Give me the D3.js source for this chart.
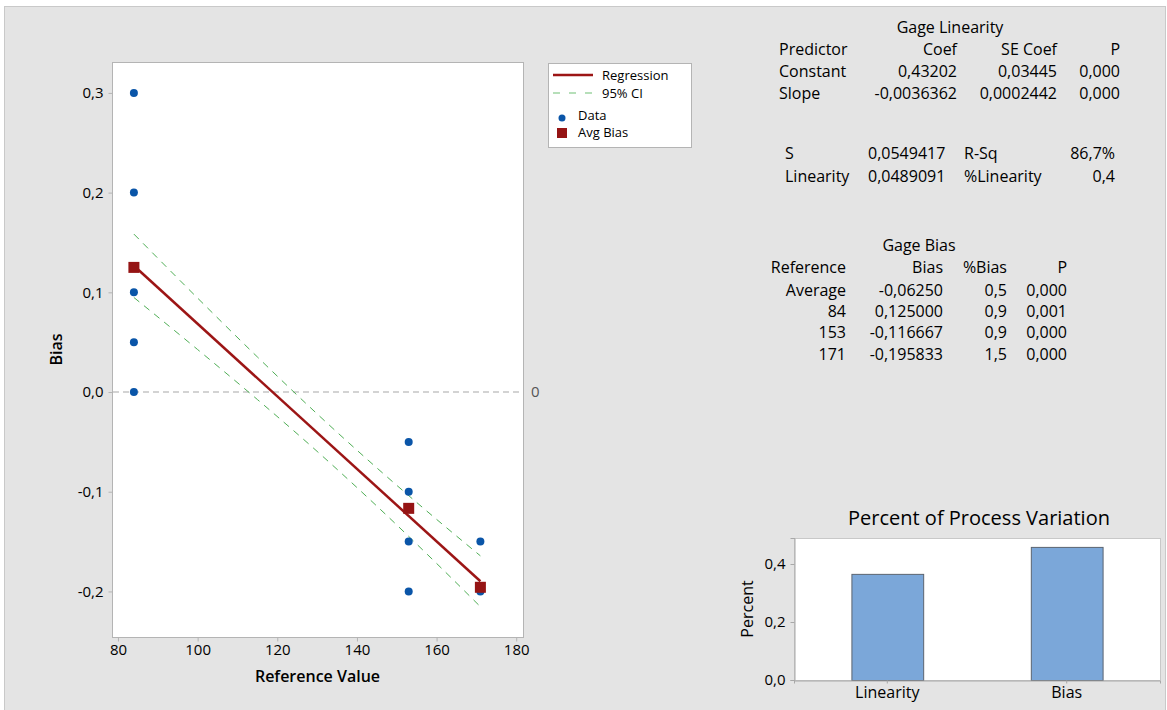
<!DOCTYPE html>
<html>
<head>
<meta charset="utf-8">
<script src="https://cdn.jsdelivr.net/npm/d3@7"></script>
<style>
  body { margin: 0; background: #fff; }
  svg { display: block; font-family: "Open Sans", "Noto Sans", sans-serif; }
  .tick text { fill: #000; }
</style>
</head>
<body>
<svg id="chart" width="1167" height="710"></svg>
<script>
// --- data ---
const refValues = [84, 153, 171];
const dataX = [84, 84, 84, 84, 84, 153, 153, 153, 153, 171, 171];
const dataBias = [0.3, 0.2, 0.1, 0.05, 0.0, -0.05, -0.1, -0.15, -0.2, -0.15, -0.2];
const avgBias = [0.125, -0.116667, -0.195833];
const regX = [84, 171];
const regY = [0.1266, -0.1898];
const ciX = [84, 100, 115, 130, 136, 145, 160, 171];
const ciUpper = [0.1584, 0.0942, 0.0352, -0.0219, -0.0439, -0.0761, -0.1277, -0.1643];
const ciLower = [0.0948, 0.0426, -0.0075, -0.0595, -0.0811, -0.1144, -0.1719, -0.2153];
const xTicks = [80, 100, 120, 140, 160, 180];
const yTicks = [-0.2, -0.1, 0.0, 0.1, 0.2, 0.3];

const legendLabels = ['Regression', '95% CI', 'Data', 'Avg Bias'];

const linHeader = ['Predictor', 'Coef', 'SE Coef', 'P'];
const linRows = [
  ['Constant', '0,43202', '0,03445', '0,000'],
  ['Slope', '-0,0036362', '0,0002442', '0,000']
];
const fitRows = [
  ['S', '0,0549417', 'R-Sq', '86,7%'],
  ['Linearity', '0,0489091', '%Linearity', '0,4']
];
const biasHeader = ['Reference', 'Bias', '%Bias', 'P'];
const biasRows = [
  ['Average', '-0,06250', '0,5', '0,000'],
  ['84', '0,125000', '0,9', '0,001'],
  ['153', '-0,116667', '0,9', '0,000'],
  ['171', '-0,195833', '1,5', '0,000']
];

const barCategories = ['Linearity', 'Bias'];
const barValues = [0.366, 0.459];
const barTicks = [0.0, 0.2, 0.4];

// --- helpers ---
const loc = d3.formatLocale({ decimal: ',', thousands: '.', grouping: [3], currency: ['', ''], minus: '-' });
const fmt1 = loc.format('.1f');
const ink = '#000';

const svg = d3.select('#chart');

// background panel
svg.append('rect').attr('width', 1167).attr('height', 710).attr('fill', '#fff');
svg.append('rect')
  .attr('x', 4.5).attr('y', 6.5).attr('width', 1161).attr('height', 710)
  .attr('fill', '#e4e4e4').attr('stroke', '#c9c9c9');

// ===== main linearity plot =====
const P = { left: 112, right: 523, top: 62, bottom: 637 };
const x = d3.scaleLinear().domain([78.5, 181.7]).range([P.left, P.right]);
const y = d3.scaleLinear().domain([-0.2457, 0.331]).range([P.bottom, P.top]);

const main = svg.append('g');
main.append('rect')
  .attr('x', P.left + 0.5).attr('y', P.top + 0.5)
  .attr('width', P.right - P.left).attr('height', P.bottom - P.top)
  .attr('fill', '#fff').attr('stroke', '#b4b4b4');

const xAxis = main.append('g')
  .attr('transform', `translate(0,${P.bottom + 0.5})`)
  .call(d3.axisBottom(x).tickValues(xTicks).tickFormat(d3.format('d')).tickSize(4).tickPadding(3));
const yAxis = main.append('g')
  .attr('transform', `translate(${P.left + 0.5},0)`)
  .call(d3.axisLeft(y).tickValues(yTicks).tickFormat(fmt1).tickSize(4).tickPadding(5));
[xAxis, yAxis].forEach(a => {
  a.select('.domain').remove();
  a.selectAll('.tick line').attr('stroke', '#b4b4b4');
  a.selectAll('.tick text').attr('font-size', 15).attr('font-family', '"Open Sans", sans-serif');
});

// zero reference line
main.append('line')
  .attr('x1', P.left + 1).attr('x2', P.right)
  .attr('y1', y(0)).attr('y2', y(0))
  .attr('stroke', '#a8a8a8').attr('stroke-width', 1.2).attr('stroke-dasharray', '6,4');
main.append('text')
  .attr('x', 531).attr('y', y(0)).attr('dy', '0.35em')
  .attr('font-size', 15).attr('fill', '#555').text('0');

// confidence band lines
const ciPts = ciX.map((v, i) => ({ x: v, up: ciUpper[i], lo: ciLower[i] }));
const ciLine = key => d3.line().x(d => x(d.x)).y(d => y(d[key])).curve(d3.curveMonotoneX);
['up', 'lo'].forEach(k => {
  main.append('path').datum(ciPts)
    .attr('d', ciLine(k))
    .attr('fill', 'none').attr('stroke', '#4fae55').attr('stroke-width', 1)
    .attr('stroke-dasharray', '7,6');
});

// regression line
main.append('path')
  .datum(regX.map((v, i) => [v, regY[i]]))
  .attr('d', d3.line().x(d => x(d[0])).y(d => y(d[1])))
  .attr('stroke', '#9c1515').attr('stroke-width', 2.5).attr('fill', 'none');

// data points
main.selectAll('circle.data')
  .data(dataX.map((v, i) => [v, dataBias[i]]))
  .join('circle')
  .attr('class', 'data')
  .attr('cx', d => x(d[0])).attr('cy', d => y(d[1]))
  .attr('r', 4).attr('fill', '#0a55a8');

// average bias squares
const sq = 11;
main.selectAll('rect.avg')
  .data(refValues.map((v, i) => [v, avgBias[i]]))
  .join('rect')
  .attr('class', 'avg')
  .attr('x', d => x(d[0]) - sq / 2).attr('y', d => y(d[1]) - sq / 2)
  .attr('width', sq).attr('height', sq)
  .attr('fill', '#951414');

// axis titles
main.append('text')
  .attr('x', (P.left + P.right) / 2).attr('y', 682)
  .attr('text-anchor', 'middle').attr('font-size', 16).attr('font-weight', 600)
  .attr('fill', ink).text('Reference Value');
main.append('text')
  .attr('transform', `translate(62,${(P.top + P.bottom) / 2}) rotate(-90)`)
  .attr('text-anchor', 'middle').attr('font-size', 16).attr('font-weight', 600)
  .attr('fill', ink).text('Bias');

// legend
const lg = svg.append('g');
lg.append('rect').attr('x', 548.5).attr('y', 63.5).attr('width', 143).attr('height', 84)
  .attr('fill', '#fff').attr('stroke', '#b4b4b4');
lg.append('line').attr('x1', 553).attr('x2', 593).attr('y1', 75).attr('y2', 75)
  .attr('stroke', '#9c1515').attr('stroke-width', 2.5);
lg.append('line').attr('x1', 553).attr('x2', 593).attr('y1', 93).attr('y2', 93)
  .attr('stroke', '#6fbf74').attr('stroke-width', 1.2).attr('stroke-dasharray', '7,9');
lg.append('circle').attr('cx', 562).attr('cy', 118).attr('r', 3.5).attr('fill', '#0a55a8');
lg.append('rect').attr('x', 557).attr('y', 128).attr('width', 10).attr('height', 10).attr('fill', '#951414');
const legendPos = [[602, 75], [602, 93], [578, 115], [578, 132]];
lg.selectAll('text.lg')
  .data(legendLabels)
  .join('text')
  .attr('class', 'lg')
  .attr('x', (d, i) => legendPos[i][0]).attr('y', (d, i) => legendPos[i][1])
  .attr('dy', '0.35em').attr('font-size', 13).attr('fill', ink)
  .text(d => d);

// ===== tables =====
function table(g, rows, cols, anchors, rowY, size) {
  rows.forEach((r, ri) => {
    r.forEach((cell, ci) => {
      g.append('text')
        .attr('x', cols[ci]).attr('y', rowY[ri]).attr('dy', '0.35em')
        .attr('text-anchor', anchors[ci])
        .attr('font-size', size).attr('fill', ink)
        .text(cell);
    });
  });
}
const tg = svg.append('g');
tg.append('text').attr('x', 950).attr('y', 27).attr('dy', '0.35em')
  .attr('text-anchor', 'middle').attr('font-size', 16).attr('fill', ink).text('Gage Linearity');
table(tg, [linHeader, ...linRows], [779, 957, 1057, 1120], ['start', 'end', 'end', 'end'], [49, 71, 93], 16);
table(tg, fitRows, [785, 868, 964, 1115], ['start', 'start', 'start', 'end'], [153, 176], 16);

tg.append('text').attr('x', 919).attr('y', 245).attr('dy', '0.35em')
  .attr('text-anchor', 'middle').attr('font-size', 16).attr('fill', ink).text('Gage Bias');
table(tg, [biasHeader, ...biasRows], [846, 943, 1007, 1067], ['end', 'end', 'end', 'end'],
  [267, 290, 311, 332, 354], 16);

// ===== percent of process variation bars =====
const B = { left: 794, right: 1160, top: 538, bottom: 680 };
const bx = d3.scaleBand().domain(barCategories).range([B.left, B.right])
  .paddingInner(0.6).paddingOuter(0.32);
const by = d3.scaleLinear().domain([0, 0.4897]).range([B.bottom, B.top]);
const bg = svg.append('g');
bg.append('rect')
  .attr('x', B.left + 0.5).attr('y', B.top + 0.5)
  .attr('width', B.right - B.left).attr('height', B.bottom - B.top)
  .attr('fill', '#fff').attr('stroke', '#c8c8c8');

bg.selectAll('rect.bar')
  .data(barCategories.map((c, i) => ({ c, v: barValues[i] })))
  .join('rect')
  .attr('class', 'bar')
  .attr('x', d => bx(d.c) + 0.5).attr('y', d => by(d.v) + 0.5)
  .attr('width', bx.bandwidth()).attr('height', d => by(0) - by(d.v))
  .attr('fill', '#7ba7d9').attr('stroke', '#5b6470').attr('stroke-width', 1);

const bxAxis = bg.append('g')
  .attr('transform', `translate(0,${B.bottom + 0.5})`)
  .call(d3.axisBottom(bx).tickSize(3).tickPadding(3));
const byAxis = bg.append('g')
  .attr('transform', `translate(${B.left + 0.5},0)`)
  .call(d3.axisLeft(by).tickValues(barTicks).tickFormat(fmt1).tickSize(4).tickPadding(5));
bxAxis.select('.domain').attr('stroke', '#a8a8a8');
byAxis.select('.domain').attr('stroke', '#a8a8a8');
[bxAxis, byAxis].forEach(a => {
  a.selectAll('.tick line').attr('stroke', '#a8a8a8');
  a.selectAll('.tick text').attr('font-family', '"Open Sans", sans-serif');
});
bxAxis.selectAll('.tick text').attr('font-size', 16);
byAxis.selectAll('.tick text').attr('font-size', 15);

bg.append('text')
  .attr('x', 979).attr('y', 518).attr('dy', '0.35em')
  .attr('text-anchor', 'middle').attr('font-size', 20)
  .attr('fill', ink).text('Percent of Process Variation');
bg.append('text')
  .attr('transform', `translate(747,${(B.top + B.bottom) / 2}) rotate(-90)`)
  .attr('dy', '0.35em')
  .attr('text-anchor', 'middle').attr('font-size', 16).attr('fill', ink).text('Percent');
</script>
</body>
</html>
